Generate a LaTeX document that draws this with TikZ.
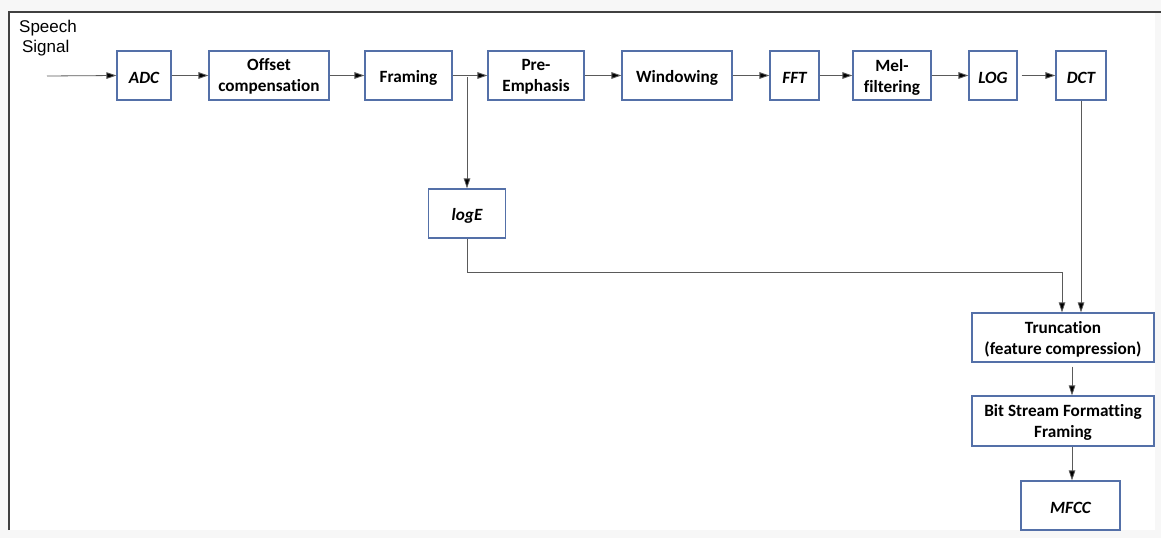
\documentclass[tikz,border=0pt]{standalone}
\usepackage{fontspec}
\setmainfont[Ligatures={NoCommon}]{Carlito}
\newfontfamily\arialfont{Liberation Sans}
\usetikzlibrary{arrows.meta}
\definecolor{boxblue}{RGB}{84,112,168}
\definecolor{linegray}{RGB}{90,90,90}
\definecolor{bggray}{RGB}{247,247,247}
\tikzset{
  base/.style={draw=boxblue, line width=1.1pt, fill=white, minimum height=49pt,
    align=center, inner sep=2pt},
  blk/.style={base, text height=16pt, font=\fontsize{17.2}{21}\selectfont\bfseries},
  twoblk/.style={base, text depth=0pt, font=\fontsize{17.2}{21}\selectfont\bfseries},
  itblk/.style={blk, font=\fontsize{17.2}{21}\selectfont\bfseries\itshape},
  arr/.style={draw=linegray, line width=0.8pt, -{Triangle[length=10pt,width=6.5pt,fill=black]}},
  ln/.style={draw=linegray, line width=0.8pt}
}
\begin{document}
\begin{tikzpicture}[x=1pt,y=-1pt]
\useasboundingbox (0,0) rectangle (1161,538);
\fill[bggray] (0,0) rectangle (1161,538);
\fill[white] (9,12) rectangle (1155,530);
\draw[black!75, line width=1.2pt] (9,530) -- (9,12) -- (1161,12);

\node[anchor=north west, align=left, inner sep=0pt,
  font=\arialfont\fontsize{17}{19.5}\selectfont] (lbl) at (19,20) {Speech\\ \,Signal};

\node[itblk, minimum width=54pt] (adc) at (144,75.5) {ADC};
\node[twoblk, minimum width=120pt] (off) at (269,75.5) {Offset\\compensation};
\node[blk, minimum width=87pt] (frm) at (408.5,75.5) {Framing};
\node[twoblk, minimum width=96pt] (pre) at (536,75.5) {Pre-\\Emphasis};
\node[blk, minimum width=110pt] (win) at (677,75.5) {Windowing};
\node[itblk, minimum width=49pt] (fft) at (794.5,75.5) {FFT};
\node[twoblk, minimum width=78pt] (mel) at (892,75.5) {Mel-\\filtering};
\node[itblk, minimum width=48pt] (log) at (993,75.5) {LOG};
\node[itblk, minimum width=50pt] (dct) at (1081,75.5) {DCT};
\node[itblk, minimum width=77pt] (loge) at (467,213.5) {logE};
\node[twoblk, minimum width=182pt] (trunc) at (1063,337.5) {Truncation\\(feature compression)};
\node[twoblk, minimum width=182pt, minimum height=50pt] (bit) at (1063,421) {Bit Stream Formatting\\Framing};
\node[itblk, minimum width=99pt] (mfcc) at (1070.5,505.5) {MFCC};

\coordinate (in) at (47,76);
\coordinate (br) at (467,77);
\coordinate (bend) at (467,272);

\draw[arr] (in) -- (adc.west);
\draw[arr] (adc) -- (off);
\draw[arr] (off) -- (frm);
\draw[arr] (frm) -- (pre);
\draw[arr] (pre) -- (win);
\draw[arr] (win) -- (fft);
\draw[arr] (fft) -- (mel);
\draw[arr] (mel) -- (log);
\draw[arr, shorten <=4pt] (log) -- (dct);
\draw[arr] (br) -- (loge.north);
\draw[arr] (loge.south) |- (bend) -| ([xshift=-1pt]trunc.north);
\draw[arr] (dct.south) -- (dct.south |- trunc.north);
\draw[arr, shorten <=4pt] ([xshift=9pt]trunc.south) -- ([xshift=9pt]trunc.south |- bit.north);
\draw[arr] ([xshift=9pt]bit.south) -- ([xshift=9pt]bit.south |- mfcc.north);
\end{tikzpicture}
\end{document}
